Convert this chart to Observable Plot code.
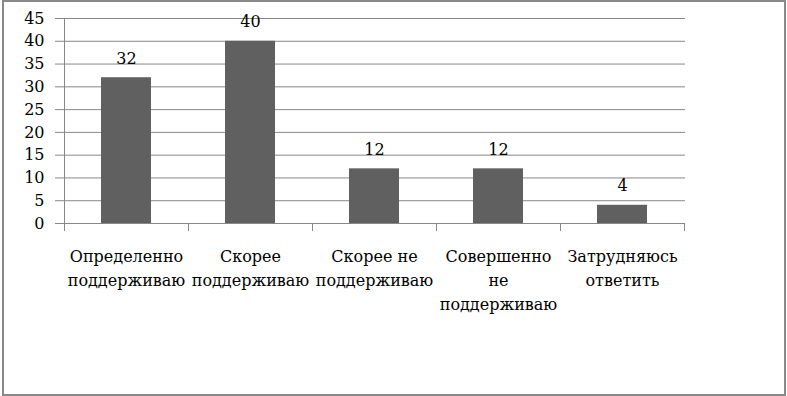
<!DOCTYPE html>
<html>
<head>
<meta charset="utf-8">
<script src="https://cdn.jsdelivr.net/npm/d3@7"></script>
<script src="https://cdn.jsdelivr.net/npm/@observablehq/plot@0.6"></script>
<style>
  html, body { margin: 0; padding: 0; background: #fff; }
  #chart { position: relative; width: 787px; height: 396px; }
  #chart .border {
    position: absolute; left: 2px; top: 0; width: 784px; height: 396px;
    box-sizing: border-box; border: 2px solid #898989; pointer-events: none;
  }
  #chart svg { position: absolute; left: 0; top: 0; overflow: visible; }
</style>
</head>
<body>
<div id="chart"><div class="border"></div></div>
<script>
// Survey answers and share of respondents (%)
const categories = [
  "Определенно поддерживаю",
  "Скорее поддерживаю",
  "Скорее не поддерживаю",
  "Совершенно не поддерживаю",
  "Затрудняюсь ответить"
];
const values = [32, 40, 12, 12, 4];
const tickLabels = [
  "Определенно\nподдерживаю",
  "Скорее\nподдерживаю",
  "Скорее не\nподдерживаю",
  "Совершенно\nне\nподдерживаю",
  "Затрудняюсь\nответить"
];
const yTicks = [0, 5, 10, 15, 20, 25, 30, 35, 40, 45];

const data = categories.map((c, i) => ({category: c, value: values[i]}));
const labelOf = new Map(categories.map((c, i) => [c, tickLabels[i]]));

const serif = "DejaVu Serif";
const gridColor = "#878787";
const barColor = "#606060";

// Vertical axis line plus short ticks at the boundaries between categories
function categoryBoundaries(index, scales) {
  const x = scales.x, y = scales.y;
  const step = x.step ? x.step() : x(categories[1]) - x(categories[0]);
  const bw = x.bandwidth ? x.bandwidth() : step * 0.4;
  const y0 = y(0), yTop = y(d3.max(yTicks));
  const g = d3.create("svg:g").attr("stroke", gridColor).attr("stroke-width", 1);
  const xs = categories.map(c => x(c) + bw / 2 - step / 2);
  xs.push(x(categories[categories.length - 1]) + bw / 2 + step / 2);
  g.append("line")
    .attr("x1", Math.round(xs[0]) + 0.5).attr("x2", Math.round(xs[0]) + 0.5)
    .attr("y1", yTop).attr("y2", y0);
  for (const bx of xs) {
    g.append("line")
      .attr("x1", Math.round(bx) + 0.5).attr("x2", Math.round(bx) + 0.5)
      .attr("y1", y0).attr("y2", y0 + 8);
  }
  return g.node();
}

const chart = Plot.plot({
  width: 787,
  height: 396,
  marginLeft: 62,
  marginRight: 102,
  marginTop: 18,
  marginBottom: 173,
  style: {fontFamily: serif, fontSize: "16px", color: "#000", background: "transparent"},
  x: {type: "band", domain: categories, paddingInner: 0.6, paddingOuter: 0.3},
  y: {domain: [0, 45]},
  marks: [
    Plot.ruleY(yTicks, {stroke: gridColor, strokeWidth: 1}),
    Plot.axisY({ticks: yTicks, tickSize: 7, tickPadding: 11, stroke: gridColor, fill: "#000", fontSize: 16, fontFamily: serif, label: null}),
    Plot.axisX({tickSize: 0, tickPadding: 21, tickFormat: d => labelOf.get(d), lineHeight: 1.5, fontSize: 16, fontFamily: serif, fill: "#000", label: null}),
    categoryBoundaries,
    Plot.barY(data, {x: "category", y: "value", fill: barColor}),
    Plot.text(data, {x: "category", y: "value", text: d => String(d.value), lineAnchor: "bottom", dy: -14, fontSize: 16, fontFamily: serif, fill: "#000"})
  ]
});
document.getElementById("chart").prepend(chart);
</script>
</body>
</html>
